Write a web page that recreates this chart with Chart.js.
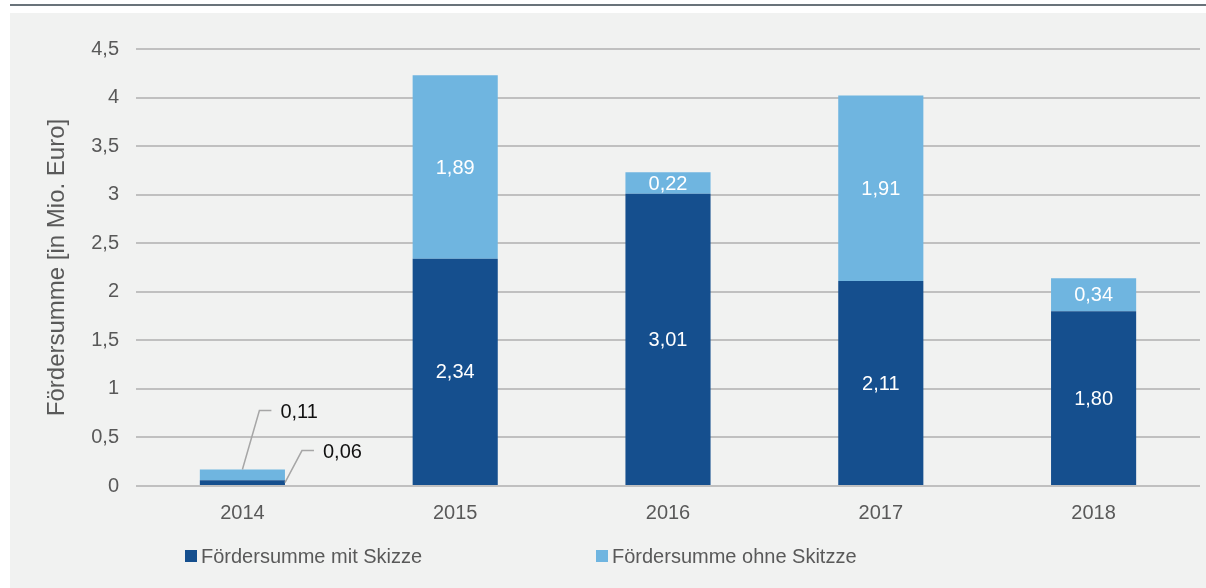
<!DOCTYPE html>
<html>
<head>
<meta charset="utf-8">
<script src="https://cdn.jsdelivr.net/npm/chart.js@4/dist/chart.umd.min.js"></script>
<style>
  html, body { margin: 0; padding: 0; background: #ffffff; }
  body { width: 1206px; height: 588px; position: relative; overflow: hidden; }
  #topline { position: absolute; left: 10px; top: 4px; width: 1196px; height: 2px; background: #69737a; }
  #panel { position: absolute; left: 10px; top: 13px; width: 1196px; height: 575px; background: #f1f2f1; }
  #wrap { position: absolute; left: 0; top: 0; width: 1206px; height: 588px; }
</style>
</head>
<body>
<div id="topline"></div>
<div id="panel"></div>
<div id="wrap"><canvas id="chart"></canvas></div>
<script>
// Jahre
const years = ["2014", "2015", "2016", "2017", "2018"];
// Fördersumme in Mio. Euro
const mitSkizze = [0.06, 2.34, 3.01, 2.11, 1.80];
const ohneSkizze = [0.11, 1.89, 0.22, 1.91, 0.34];
const seriesNames = ["Fördersumme mit Skizze", "Fördersumme ohne Skitzze"];
const seriesColors = ["#154f8e", "#6fb5e0"];

const fontFamily = "'Liberation Sans', Arial, sans-serif";
const textGray = "#595959";

const fmt = (v, d) => v.toFixed(d).replace(".", ",");

// labels inside the bars, tiny bars get a leader line
const barLabels = {
  id: "barLabels",
  afterDatasetsDraw(chart) {
    const ctx = chart.ctx;
    ctx.save();
    ctx.font = "20px " + fontFamily;
    chart.data.datasets.forEach((ds, di) => {
      const meta = chart.getDatasetMeta(di);
      meta.data.forEach((bar, i) => {
        const v = ds.data[i];
        const txt = fmt(v, 2);
        const h = Math.abs(bar.base - bar.y);
        if (h > 15) {
          ctx.fillStyle = "#ffffff";
          ctx.textAlign = "center";
          ctx.textBaseline = "middle";
          ctx.fillText(txt, bar.x, (bar.y + bar.base) / 2 + 1);
        } else {
          let sx, sy, ex, ey;
          if (di === 1) {
            sx = bar.x; sy = bar.y;
            ex = sx + 17; ey = sy - 59;
          } else {
            sx = bar.x + bar.width / 2; sy = (bar.y + bar.base) / 2;
            ex = sx + 17; ey = sy - 32;
          }
          ctx.strokeStyle = "#a6a6a6";
          ctx.lineWidth = 1.5;
          ctx.beginPath();
          ctx.moveTo(sx, sy);
          ctx.lineTo(ex, ey);
          ctx.lineTo(ex + 12, ey);
          ctx.stroke();
          ctx.fillStyle = "#111111";
          ctx.textAlign = "left";
          ctx.textBaseline = "middle";
          ctx.fillText(txt, ex + 21, ey + 2);
        }
      });
    });
    ctx.restore();
  }
};

// legend below the axis
const bottomLegend = {
  id: "bottomLegend",
  afterDraw(chart) {
    const ctx = chart.ctx;
    const xs = [185, 596];
    const y = 556;
    ctx.save();
    ctx.font = "20px " + fontFamily;
    ctx.textBaseline = "middle";
    ctx.textAlign = "left";
    chart.data.datasets.forEach((ds, di) => {
      ctx.fillStyle = ds.backgroundColor;
      ctx.fillRect(xs[di], y - 6, 12, 12);
      ctx.fillStyle = textGray;
      ctx.fillText(ds.label, xs[di] + 16, y + 1);
    });
    ctx.restore();
  }
};

new Chart(document.getElementById("chart"), {
  type: "bar",
  plugins: [barLabels, bottomLegend],
  data: {
    labels: years,
    datasets: [
      { label: seriesNames[0], data: mitSkizze, backgroundColor: seriesColors[0], barPercentage: 0.8, categoryPercentage: 0.5 },
      { label: seriesNames[1], data: ohneSkizze, backgroundColor: seriesColors[1], barPercentage: 0.8, categoryPercentage: 0.5 }
    ]
  },
  options: {
    responsive: true,
    maintainAspectRatio: false,
    animation: false,
    layout: { padding: { left: 43, right: 6, top: 49, bottom: 62 } },
    plugins: {
      legend: { display: false },
      tooltip: { enabled: false }
    },
    scales: {
      x: {
        stacked: true,
        offset: true,
        grid: { display: false, drawTicks: false },
        border: { display: false },
        ticks: { color: textGray, font: { family: fontFamily, size: 20 }, padding: 15 },
        afterFit: (s) => { s.height = 40; }
      },
      y: {
        stacked: true,
        min: 0,
        max: 4.5,
        grid: { color: "#c0c0c0", lineWidth: 2, drawTicks: false },
        border: { display: false },
        ticks: {
          stepSize: 0.5,
          color: textGray,
          font: { family: fontFamily, size: 20 },
          padding: 17,
          callback: (v) => String(v).replace(".", ",")
        },
        title: {
          display: true,
          text: "Fördersumme [in Mio. Euro]",
          color: textGray,
          font: { family: fontFamily, size: 24 },
          padding: { top: 0, bottom: 0 }
        },
        afterFit: (s) => { s.width = 93; }
      }
    }
  }
});
</script>
</body>
</html>
